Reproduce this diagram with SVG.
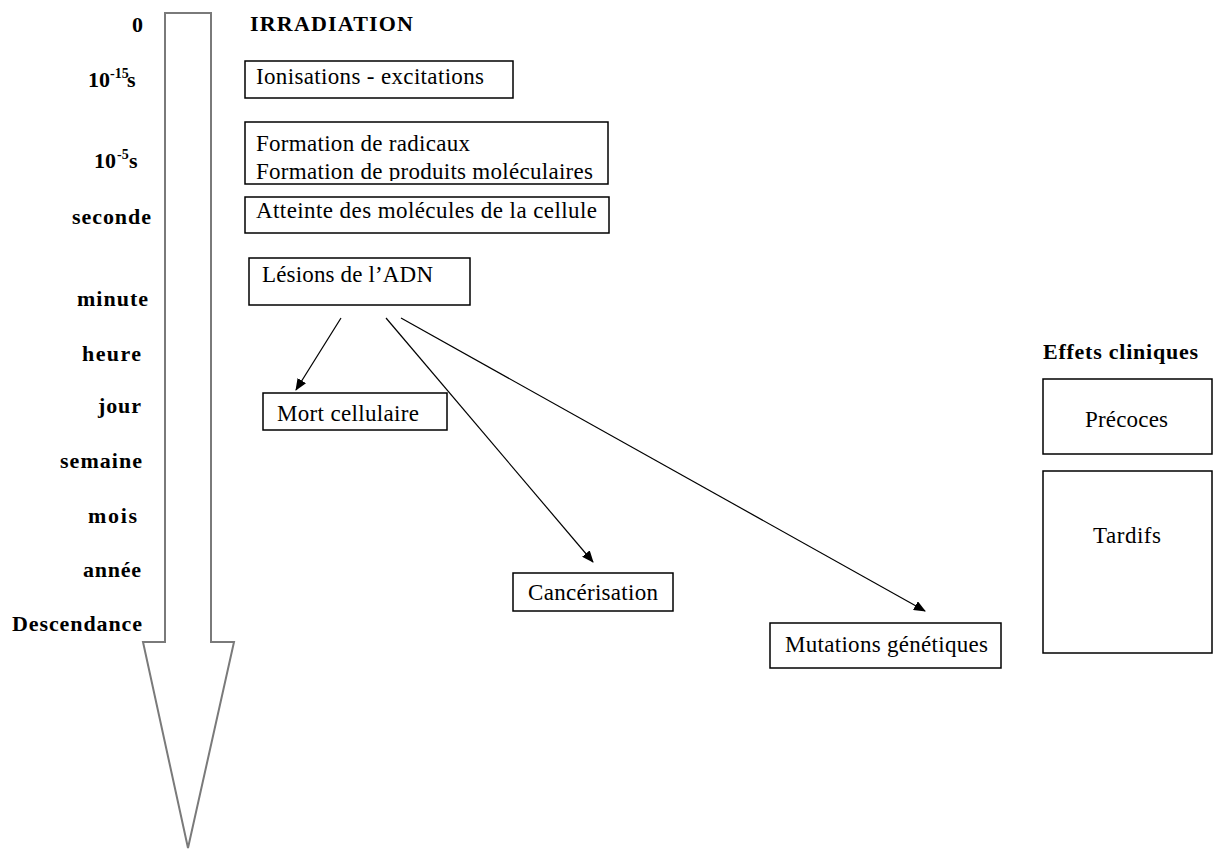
<svg xmlns="http://www.w3.org/2000/svg" width="1213" height="849" viewBox="0 0 1213 849">
<style>
.lbl{font-family:"Liberation Serif","Times New Roman",serif;font-weight:bold;font-size:22px;fill:#000}
.txt{font-family:"Liberation Serif","Times New Roman",serif;font-size:23px;fill:#000}
.hd{font-family:"Liberation Serif","Times New Roman",serif;font-weight:bold;font-size:22px;fill:#000}
.box{fill:#fff;stroke:#000;stroke-width:1.5}
.con{stroke:#000;stroke-width:1.2;fill:none;marker-end:url(#ah)}
</style>
<defs>
<marker id="ah" markerWidth="12" markerHeight="10" refX="11" refY="5" orient="auto" markerUnits="userSpaceOnUse">
<path d="M0,0 L12,5 L0,10 Z" fill="#000"/>
</marker>
<clipPath id="clipF"><rect x="245" y="122" width="364" height="59"/></clipPath>
</defs>
<rect width="1213" height="849" fill="#fff"/>

<g id="timeline">
<polygon points="165,13 211,13 211,642 234,642 188,848 143,642 165,642" fill="#fff" stroke="#7a7a7a" stroke-width="2"/>
</g>

<g id="time-labels">
<text class="lbl" x="132" y="32">0</text>
<text class="lbl" x="88" y="87">10<tspan x="110" y="78" font-size="14">-15</tspan><tspan x="127" y="87">s</tspan></text>
<text class="lbl" x="94" y="168">10<tspan x="117" y="159" font-size="14">-5</tspan><tspan x="129" y="168">s</tspan></text>
<text class="lbl" x="72" y="224" textLength="79">seconde</text>
<text class="lbl" x="77" y="306" textLength="71">minute</text>
<text class="lbl" x="82" y="361" textLength="59">heure</text>
<text class="lbl" x="98" y="413" textLength="43">jour</text>
<text class="lbl" x="60" y="468" textLength="82">semaine</text>
<text class="lbl" x="88" y="523" textLength="49">mois</text>
<text class="lbl" x="83" y="577" textLength="58">année</text>
<text class="lbl" x="12" y="631" textLength="130">Descendance</text>
</g>

<g id="irradiation">
<text class="hd" x="250" y="31" textLength="163">IRRADIATION</text>
</g>

<g id="ionisations">
<rect class="box" x="245" y="61" width="268" height="37"/>
<text class="txt" x="256" y="84" textLength="228">Ionisations - excitations</text>
</g>

<g id="formation">
<rect class="box" x="245" y="122" width="363" height="62"/>
<text class="txt" x="256" y="151" textLength="214">Formation de radicaux</text>
<text class="txt" x="256" y="179" textLength="337" clip-path="url(#clipF)">Formation de produits moléculaires</text>
</g>

<g id="atteinte">
<rect class="box" x="245" y="197" width="364" height="36"/>
<text class="txt" x="256" y="218" textLength="341">Atteinte des molécules de la cellule</text>
</g>

<g id="lesions">
<rect class="box" x="249" y="258" width="221" height="47"/>
<text class="txt" x="262" y="282" textLength="171">Lésions de l’ADN</text>
</g>

<g id="mort">
<rect class="box" x="263" y="393" width="184" height="37"/>
<text class="txt" x="277" y="421" textLength="142">Mort cellulaire</text>
</g>

<g id="cancerisation">
<rect class="box" x="513" y="573" width="160" height="38"/>
<text class="txt" x="528" y="600" textLength="130">Cancérisation</text>
</g>

<g id="mutations">
<rect class="box" x="770" y="623" width="231" height="45"/>
<text class="txt" x="785" y="652" textLength="203">Mutations génétiques</text>
</g>

<g id="effets">
<text class="hd" x="1043" y="359" textLength="155">Effets cliniques</text>
</g>

<g id="precoces">
<rect class="box" x="1043" y="379" width="169" height="75"/>
<text class="txt" x="1085" y="427" textLength="83">Précoces</text>
</g>

<g id="tardifs">
<rect class="box" x="1043" y="471" width="169" height="182"/>
<text class="txt" x="1093" y="543" textLength="68">Tardifs</text>
</g>

<g id="connectors">
<line class="con" x1="341" y1="318" x2="296" y2="390"/>
<line class="con" x1="386" y1="318" x2="593" y2="562"/>
<line class="con" x1="401" y1="318" x2="925" y2="611"/>
</g>
</svg>
